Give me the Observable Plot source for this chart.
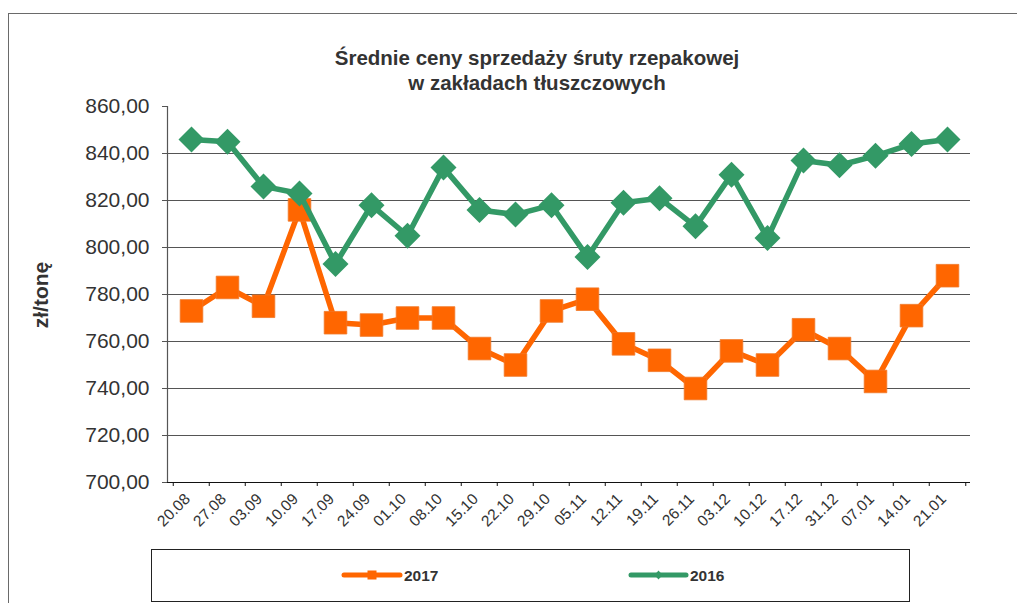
<!DOCTYPE html>
<html>
<head>
<meta charset="utf-8">
<script src="https://cdn.jsdelivr.net/npm/d3@7"></script>
<script src="https://cdn.jsdelivr.net/npm/@observablehq/plot@0.6"></script>
<style>
  html, body { margin: 0; padding: 0; background: #fff; overflow: hidden; }
  #wrap { position: relative; width: 1017px; height: 603px; font-family: "Liberation Sans", Arial, sans-serif; color: #333; }
  #wrap svg { position: absolute; left: 0; top: 0; }
  .frame { position: absolute; left: 8px; top: 13px; width: 1100px; height: 700px; border-top: 1.5px solid #6a6a6a; border-left: 1.5px solid #6a6a6a; }
  .title { position: absolute; left: 237px; width: 600px; top: 45px; text-align: center; font-weight: bold; font-size: 20.5px; line-height: 25px; color: #333; }
  .ylab { position: absolute; left: 41px; top: 295px; transform: translate(-50%, -50%) rotate(-90deg); font-weight: bold; font-size: 21px; white-space: nowrap; color: #333; }
  .legend { position: absolute; left: 151px; top: 549px; width: 757px; height: 51px; border: 1.5px solid #222; }
  .legend svg { position: absolute; left: 0; top: 0; }
</style>
</head>
<body>
<div id="wrap">
  <div class="frame"></div>
  <div class="title">Średnie ceny sprzedaży śruty rzepakowej<br>w zakładach tłuszczowych</div>
  <div class="ylab">zł/tonę</div>
  <div id="chart"></div>
  <div class="legend" id="legend"></div>
</div>
<script>
const dates = ["20.08","27.08","03.09","10.09","17.09","24.09","01.10","08.10","15.10","22.10","29.10","05.11","12.11","19.11","26.11","03.12","10.12","17.12","31.12","07.01","14.01","21.01"];
const values2017 = [773,783,775,816,768,767,770,770,757,750,773,778,759,752,740,756,750,765,757,743,771,788];
const values2016 = [846,845,826,823,793,818,805,834,816,814,818,796,819,821,809,831,804,837,835,839,844,846];
const yTicks = [700,720,740,760,780,800,820,840,860];
const seriesNames = ["2017","2016"];
const seriesColors = ["#FF6600","#339966"];

const rows2017 = dates.map((d, i) => ({date: d, value: values2017[i]}));
const rows2016 = dates.map((d, i) => ({date: d, value: values2016[i]}));

const fmt = v => d3.format(".2f")(v).replace(".", ",");

const squareSym = {draw(ctx, size) { const h = Math.sqrt(size / Math.PI); ctx.moveTo(-h,-h); ctx.lineTo(h,-h); ctx.lineTo(h,h); ctx.lineTo(-h,h); ctx.closePath(); }};
const diamondSym = {draw(ctx, size) { const h = Math.sqrt(size / Math.PI); ctx.moveTo(0,-h); ctx.lineTo(h,0); ctx.lineTo(0,h); ctx.lineTo(-h,0); ctx.closePath(); }};

const W = 1017, H = 603, mL = 167, mR = 47, mT = 106, mB = 121;
const bw = (W - mL - mR) / dates.length;

const chart = Plot.plot({
  width: W, height: H,
  marginLeft: mL, marginRight: mR, marginTop: mT, marginBottom: mB,
  style: {fontFamily: "Liberation Sans, Arial, sans-serif", color: "#333", background: "transparent", overflow: "visible"},
  x: {type: "band", domain: dates, padding: 0, axis: null},
  y: {domain: [700, 860], axis: null},
  marks: [
    Plot.ruleY(yTicks.filter(v => v > 700 && v < 860), {stroke: "#555", strokeWidth: 1.2}),
    Plot.axisY({ticks: yTicks, tickFormat: fmt, tickSize: 5, tickPadding: 13, fontSize: 21, stroke: "#555", label: null}),
    Plot.frame({anchor: "left", stroke: "#555", strokeWidth: 1.2}),
    Plot.ruleY([700], {stroke: "#111", strokeWidth: 1.2}),
    Plot.axisX({tickSize: 4, text: null, dx: -bw / 2, stroke: "#111", label: null}),
    Plot.axisX({ticks: [dates[dates.length - 1]], tickSize: 4, text: null, dx: bw / 2, stroke: "#111", label: null}),
    Plot.axisX({tickSize: 0, tickRotate: -45, tickPadding: 14, fontSize: 15.5, dx: -4, label: null}),
    Plot.line(rows2017, {x: "date", y: "value", stroke: seriesColors[0], strokeWidth: 5.5}),
    Plot.dot(rows2017, {x: "date", y: "value", symbol: squareSym, r: 11.3, fill: seriesColors[0], stroke: "#F07828", strokeWidth: 0.8}),
    Plot.line(rows2016, {x: "date", y: "value", stroke: seriesColors[1], strokeWidth: 5.5}),
    Plot.dot(rows2016, {x: "date", y: "value", symbol: diamondSym, r: 13, fill: seriesColors[1]})
  ]
});
document.getElementById("chart").appendChild(chart);

// legend
const lg = d3.select("#legend").append("svg").attr("width", 757).attr("height", 51);
const items = [
  {name: seriesNames[0], color: seriesColors[0], x0: 192, x1: 248, tx: 252, sym: "square"},
  {name: seriesNames[1], color: seriesColors[1], x0: 479, x1: 534, tx: 538, sym: "diamond"}
];
const ly = 25;
items.forEach(it => {
  lg.append("line").attr("x1", it.x0).attr("x2", it.x1).attr("y1", ly).attr("y2", ly)
    .attr("stroke", it.color).attr("stroke-width", 5).attr("stroke-linecap", "round");
  const cx = (it.x0 + it.x1) / 2;
  if (it.sym === "square") {
    lg.append("rect").attr("x", cx - 4.5).attr("y", ly - 4.5).attr("width", 9).attr("height", 9).attr("fill", it.color);
  } else {
    lg.append("path").attr("d", `M${cx},${ly-4.5}L${cx+4},${ly}L${cx},${ly+4.5}L${cx-4},${ly}Z`).attr("fill", it.color);
  }
  lg.append("text").attr("x", it.tx).attr("y", ly).attr("dy", "0.36em")
    .attr("font-family", "Liberation Sans, Arial, sans-serif").attr("font-weight", "bold").attr("font-size", 15.5)
    .attr("fill", "#333").text(it.name);
});
</script>
</body>
</html>
